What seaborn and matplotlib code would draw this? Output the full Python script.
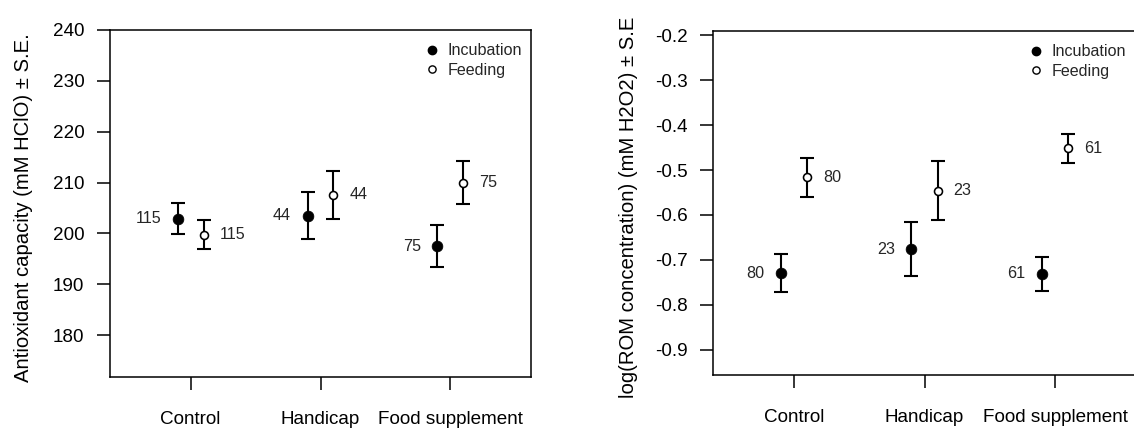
import numpy as np
import pandas as pd
import matplotlib
matplotlib.use("Agg")
import matplotlib.pyplot as plt
from matplotlib.lines import Line2D
import seaborn as sns

# ---------------- data ----------------
groups = ["Control", "Handicap", "Food supplement"]
phases = ["Incubation", "Feeding"]

# Left panel: antioxidant capacity
aox_inc_mean = [202.9, 203.5, 197.5]
aox_inc_se = [3.0, 4.6, 4.1]
aox_feed_mean = [199.7, 207.6, 210.0]
aox_feed_se = [2.85, 4.75, 4.25]
aox_n = [115, 44, 75]

# Right panel: log ROM concentration
rom_inc_mean = [-0.729, -0.676, -0.731]
rom_inc_se = [0.042, 0.060, 0.0385]
rom_feed_mean = [-0.516, -0.546, -0.452]
rom_feed_se = [0.0435, 0.065, 0.0325]
rom_n = [80, 23, 61]

aox_yticks = [180, 190, 200, 210, 220, 230, 240]
rom_yticks = [-0.9, -0.8, -0.7, -0.6, -0.5, -0.4, -0.3, -0.2]

# ---------------- style ----------------
sns.set_theme(style="ticks")
plt.rcParams["font.family"] = ["Liberation Sans", "DejaVu Sans"]
plt.rcParams["axes.edgecolor"] = "black"
plt.rcParams["axes.linewidth"] = 1.1

W, H = 1134, 430
fig = plt.figure(figsize=(W / 100, H / 100), dpi=100)
ax1 = fig.add_axes([110 / W, 1 - 376.7 / H, 421 / W, 346.7 / H])
ax2 = fig.add_axes([713 / W, 1 - 375 / H, 423 / W, 344.3 / H])

DODGE = 0.1


def make_df(inc_mean, inc_se, feed_mean, feed_se, n):
    rows = []
    for i, g in enumerate(groups):
        rows.append(dict(group=g, phase="Incubation", idx=i, mean=inc_mean[i], se=inc_se[i], n=n[i]))
        rows.append(dict(group=g, phase="Feeding", idx=i, mean=feed_mean[i], se=feed_se[i], n=n[i]))
    df = pd.DataFrame(rows)
    df["x"] = df["idx"] + np.where(df["phase"] == "Incubation", -DODGE, DODGE)
    return df


def panel(ax, df, ylim, yticks, yticklabels, ylabel, label_xy, legend_anchor):
    inc = df[df["phase"] == "Incubation"]
    feed = df[df["phase"] == "Feeding"]
    ax.errorbar(df["x"], df["mean"], yerr=df["se"], fmt="none", ecolor="black",
                elinewidth=1.5, capsize=5, capthick=1.5, zorder=2)
    sns.scatterplot(data=inc, x="x", y="mean", color="black", edgecolor="black",
                    s=60, linewidth=0.5, ax=ax, zorder=3, legend=False)
    sns.scatterplot(data=feed, x="x", y="mean", color="white", edgecolor="black",
                    s=33, linewidth=1.15, ax=ax, zorder=3, legend=False)
    for _, r in inc.iterrows():
        ax.annotate(str(r["n"]), xy=(r["x"], r["mean"]), xytext=(-12, 0),
                    textcoords="offset points", ha="right", va="center", fontsize=11.6)
    for _, r in feed.iterrows():
        ax.annotate(str(r["n"]), xy=(r["x"], r["mean"]), xytext=(11.5, 0),
                    textcoords="offset points", ha="left", va="center", fontsize=11.6)

    ax.set_xlim(-0.62, 2.62)
    ax.set_ylim(*ylim)
    ax.set_xticks(range(len(groups)))
    ax.set_xticklabels(groups)
    ax.set_yticks(yticks)
    ax.set_yticklabels(yticklabels)
    ax.tick_params(axis="both", length=9.4, width=1.1, color="black",
                   labelsize=13.6, labelcolor="black")
    ax.tick_params(axis="x", pad=15)
    ax.tick_params(axis="y", pad=9)
    ax.set_xlabel("")
    ax.set_ylabel(ylabel, fontsize=14.6, color="black")
    ax.yaxis.set_label_coords(*label_xy)
    for s in ax.spines.values():
        s.set_visible(True)
        s.set_color("black")
        s.set_linewidth(1.1)
    ax.set_facecolor("white")

    handles = [
        Line2D([], [], linestyle="none", marker="o", markersize=6.0,
               markerfacecolor="black", markeredgecolor="black"),
        Line2D([], [], linestyle="none", marker="o", markersize=5.2,
               markerfacecolor="white", markeredgecolor="black", markeredgewidth=1.0),
    ]
    ax.legend(handles, phases, loc="upper right", bbox_to_anchor=legend_anchor,
              frameon=False, fontsize=11.6, borderpad=0, borderaxespad=0,
              handlelength=0.8, handletextpad=0.55, labelspacing=0.28)


df1 = make_df(aox_inc_mean, aox_inc_se, aox_feed_mean, aox_feed_se, aox_n)
df2 = make_df(rom_inc_mean, rom_inc_se, rom_feed_mean, rom_feed_se, rom_n)

panel(ax1, df1, (171.8, 240), aox_yticks, [str(t) for t in aox_yticks],
      "Antioxidant capacity (mM HClO) \u00b1 S.E.", (-0.183, 0.489), (0.9786, 0.962))
panel(ax2, df2, (-0.9556, -0.1904), rom_yticks, [f"{t:.1f}" for t in rom_yticks],
      "log(ROM concentration) (mM H2O2) \u00b1 S.E", (-0.177, 0.4865), (0.976, 0.960))

fig.patch.set_facecolor("white")
fig.savefig("out.png", dpi=100, facecolor="white")
